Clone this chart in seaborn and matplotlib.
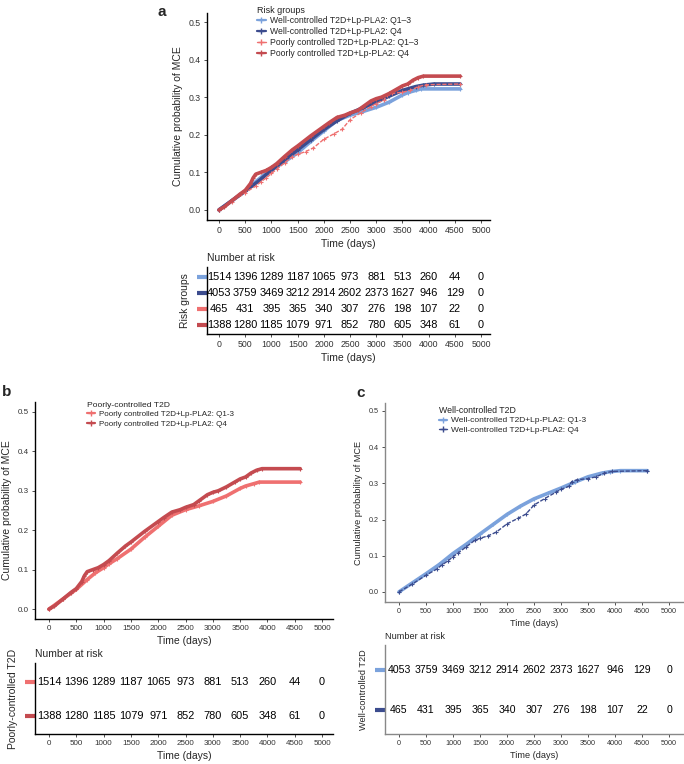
import matplotlib
matplotlib.use("Agg")
import matplotlib.pyplot as plt
import pandas as pd
import seaborn as sns
from matplotlib.lines import Line2D

# curve values (days, cumulative probability of MCE)
days_1514 = [0, 250, 500, 700, 850, 1000, 1100, 1250, 1500, 1750, 2000, 2250, 2500,
             2750, 3000, 3250, 3500, 3600, 3750, 3850, 4600]
curve_1514 = [0, 0.025, 0.05, 0.075, 0.092, 0.105, 0.115, 0.128, 0.152, 0.182, 0.21, 0.238, 0.252,
              0.262, 0.273, 0.287, 0.306, 0.312, 0.318, 0.322, 0.322]
days_4053 = [0, 250, 500, 750, 1000, 1250, 1500, 1750, 2000, 2250, 2500, 2750, 3000,
             3250, 3500, 3750, 3900, 4100, 4600]
curve_4053 = [0, 0.025, 0.05, 0.076, 0.106, 0.132, 0.16, 0.187, 0.214, 0.237, 0.257, 0.272, 0.287,
              0.303, 0.318, 0.328, 0.332, 0.335, 0.335]
days_1388 = [0, 100, 250, 400, 500, 600, 650, 700, 800, 900, 1000, 1100, 1250, 1400, 1500,
             1750, 2000, 2100, 2250, 2400, 2500, 2650, 2750, 2900, 3000, 3100, 3250, 3400,
             3500, 3600, 3700, 3800, 3900, 4600]
curve_1388 = [0, 0.008, 0.025, 0.042, 0.052, 0.07, 0.085, 0.095, 0.10, 0.105, 0.113, 0.123,
              0.142, 0.16, 0.17, 0.197, 0.222, 0.232, 0.246, 0.252, 0.258, 0.265, 0.275, 0.29,
              0.296, 0.30, 0.31, 0.322, 0.33, 0.335, 0.345, 0.352, 0.356, 0.356]
days_465 = [0, 250, 500, 700, 800, 900, 1000, 1100, 1250, 1400, 1500, 1650, 1800, 2000,
            2200, 2350, 2500, 2700, 2900, 3000, 3150, 3200, 3300, 3500, 3650, 3800, 3950, 4600]
curve_465 = [0, 0.022, 0.046, 0.063, 0.075, 0.085, 0.097, 0.108, 0.125, 0.142, 0.148, 0.155,
             0.165, 0.188, 0.203, 0.215, 0.24, 0.258, 0.275, 0.283, 0.292, 0.305, 0.31, 0.313,
             0.318, 0.328, 0.333, 0.335]

# number at risk
risk_times = [0, 500, 1000, 1500, 2000, 2500, 3000, 3500, 4000, 4500, 5000]
risk_1514 = [1514, 1396, 1289, 1187, 1065, 973, 881, 513, 260, 44, 0]
risk_4053 = [4053, 3759, 3469, 3212, 2914, 2602, 2373, 1627, 946, 129, 0]
risk_465 = [465, 431, 395, 365, 340, 307, 276, 198, 107, 22, 0]
risk_1388 = [1388, 1280, 1185, 1079, 971, 852, 780, 605, 348, 61, 0]

labels_a = ["Well-controlled T2D+Lp-PLA2: Q1\u20133", "Well-controlled T2D+Lp-PLA2: Q4",
            "Poorly controlled T2D+Lp-PLA2: Q1\u20133", "Poorly controlled T2D+Lp-PLA2: Q4"]
labels_b = ["Poorly controlled T2D+Lp-PLA2: Q1-3", "Poorly controlled T2D+Lp-PLA2: Q4"]
labels_c = ["Well-controlled T2D+Lp-PLA2: Q1-3", "Well-controlled T2D+Lp-PLA2: Q4"]

LBLUE, DBLUE, LRED, DRED = "#7BA2DC", "#3C4C8E", "#EF7070", "#C44B50"
W, H = 684, 764

sns.set_theme(style="ticks")
plt.rcParams["font.family"] = ["Liberation Sans", "DejaVu Sans"]
fig = plt.figure(figsize=(6.84, 7.64), dpi=100)


def box(x0, y0, x1, y1):
    # pixel box -> figure fraction
    return [x0 / W, 1 - y1 / H, (x1 - x0) / W, (y1 - y0) / H]


def style_axes(ax, tick_fs, spine_col="black"):
    sns.despine(ax=ax)
    for s in ("left", "bottom"):
        ax.spines[s].set_color(spine_col)
        ax.spines[s].set_linewidth(1.0)
    ax.tick_params(length=2.5, width=0.6, labelsize=tick_fs, pad=2, colors="#333333")
    ax.set_xticks(risk_times)


def km_panel(ax, series, xlim, ylim, tick_fs, lab_fs, spine_col="black"):
    for x, y, col, sparse in series:
        d = pd.DataFrame({"t": x, "p": y})
        if sparse:
            sns.lineplot(data=d, x="t", y="p", ax=ax, color=col, lw=1.0,
                         linestyle=(0, (3, 1.2)), marker="+", ms=3, mew=0.8, mec=col)
        else:
            sns.lineplot(data=d, x="t", y="p", ax=ax, color=col, lw=2.6,
                         marker="+", ms=2.5, mew=0.8, mec=col)
    ax.set_xlim(*xlim)
    ax.set_ylim(*ylim)
    ax.set_yticks([0, 0.1, 0.2, 0.3, 0.4, 0.5])
    ax.set_yticklabels(["0.0", "0.1", "0.2", "0.3", "0.4", "0.5"])
    style_axes(ax, tick_fs, spine_col)
    ax.set_xlabel("Time (days)", fontsize=lab_fs, labelpad=3)
    ax.set_ylabel("Cumulative probability of MCE", fontsize=lab_fs, labelpad=4)


def legend(ax, title, labels, cols, sparse, anchor, fs):
    handles = []
    for c, s in zip(cols, sparse):
        handles.append(Line2D([], [], color=c, lw=1.0 if s else 1.6, marker="+", ms=4))
    lg = ax.legend(handles, labels, title=title, loc="upper left", bbox_to_anchor=anchor,
                   frameon=False, fontsize=fs, title_fontsize=fs + 0.3, handlelength=1.0,
                   handletextpad=0.5, labelspacing=0.2, borderaxespad=0, borderpad=0)
    lg._legend_box.align = "left"
    lg.get_title().set_color("#222222")


def risk_table(ax, rows, cols, xlim, ylim, ylabel, tick_fs, lab_fs, num_fs, spine_col="black"):
    n = len(rows)
    for i, vals in enumerate(rows):
        for t, v in zip(risk_times, vals):
            ax.text(t, n - i, str(v), ha="center", va="center", fontsize=num_fs, color="black")
    ax.set_xlim(*xlim)
    ax.set_ylim(*ylim)
    style_axes(ax, tick_fs, spine_col)
    ax.set_yticks([n - i for i in range(n)])
    ax.set_yticklabels([])
    for tk, c in zip(ax.yaxis.get_major_ticks(), cols):
        tk.tick1line.set_markeredgecolor(c)
        tk.tick1line.set_markeredgewidth(3)
        tk.tick1line.set_markersize(7)
    ax.set_xlabel("Time (days)", fontsize=lab_fs, labelpad=3)
    ax.set_ylabel(ylabel, fontsize=lab_fs, labelpad=8)
    ax.set_title("Number at risk", fontsize=lab_fs, loc="left", pad=4, x=0.0)


# ---- panel a
ax_a = fig.add_axes(box(207, 13, 490, 220))
km_panel(ax_a, [(days_1514, curve_1514, LBLUE, False), (days_4053, curve_4053, DBLUE, False),
                (days_465, curve_465, LRED, True), (days_1388, curve_1388, DRED, False)],
         (-230, 5170), (-0.027, 0.524), 6.3, 7.5)
legend(ax_a, "Risk groups", labels_a, [LBLUE, DBLUE, LRED, DRED], [False, False, True, False],
       (0.177, 1.035), 6.2)
fig.text(157 / W, 1 - 12 / H, "a", fontsize=11, fontweight="bold", va="center")

tab_a = fig.add_axes(box(207, 267, 490, 334))
risk_table(tab_a, [risk_1514, risk_4053, risk_465, risk_1388], [LBLUE, DBLUE, LRED, DRED],
           (-230, 5170), (0.44, 4.63), "Risk groups", 6.3, 7.5, 7.9)

# ---- panel b
ax_b = fig.add_axes(box(35, 402, 333, 619))
km_panel(ax_b, [(days_1514, curve_1514, LRED, False), (days_1388, curve_1388, DRED, False)],
         (-256, 5200), (-0.025, 0.525), 5.8, 7.5)
legend(ax_b, "Poorly-controlled T2D", labels_b, [LRED, DRED], [False, False], (0.175, 1.0), 5.8)
fig.text(2 / W, 1 - 392 / H, "b", fontsize=11, fontweight="bold", va="center")

tab_b = fig.add_axes(box(35, 663, 333, 734))
risk_table(tab_b, [risk_1514, risk_1388], [LRED, DRED], (-256, 5200), (0.47, 2.56),
           "Poorly-controlled T2D", 5.8, 7.5, 7.9)

# ---- panel c
ax_c = fig.add_axes(box(385, 403, 683, 602))
km_panel(ax_c, [(days_4053, curve_4053, LBLUE, False), (days_465, curve_465, DBLUE, True)],
         (-259, 5259), (-0.028, 0.522), 5.2, 6.6, spine_col="#888888")
legend(ax_c, "Well-controlled T2D", labels_c, [LBLUE, DBLUE], [False, True], (0.18, 0.985), 6.0)
fig.text(356 / W, 1 - 393 / H, "c", fontsize=11, fontweight="bold", va="center")

tab_c = fig.add_axes(box(385, 645, 683, 734))
risk_table(tab_c, [risk_4053, risk_465], [LBLUE, DBLUE], (-259, 5259), (0.4, 2.625),
           "Well-controlled T2D", 5.2, 6.6, 7.6, spine_col="#888888")

fig.savefig("out.png", dpi=100)
